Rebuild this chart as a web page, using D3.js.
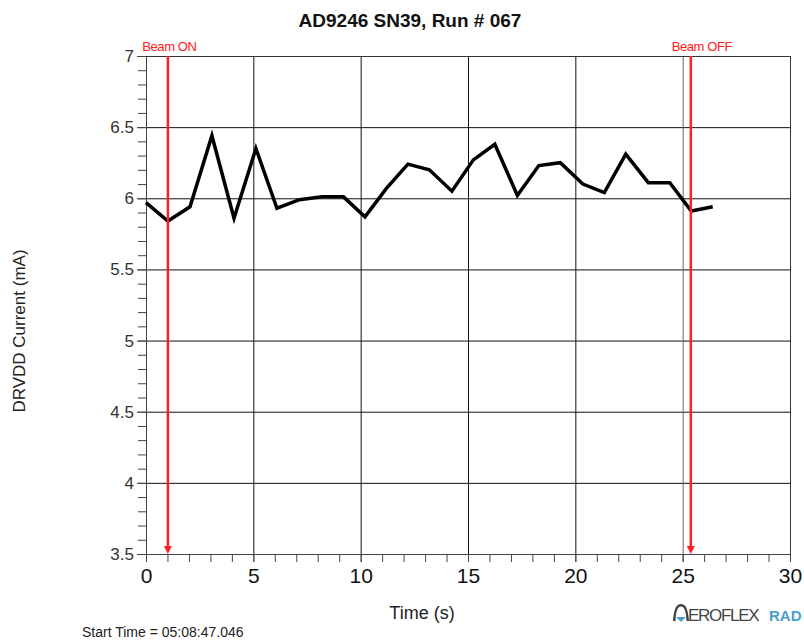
<!DOCTYPE html>
<html>
<head>
<meta charset="utf-8">
<style>
  body { margin: 0; background: #fff; }
  svg { font-family: "Liberation Sans", Arial, sans-serif; }
</style>
</head>
<body>
<svg width="804" height="640"></svg>
<script src="https://cdnjs.cloudflare.com/ajax/libs/d3/7.8.5/d3.min.js"></script>
<script>

// data
var times = [0, 1.02, 2.05, 3.07, 4.1, 5.12, 6.1, 7.15, 8.2, 9.2, 10.2, 11.2, 12.2, 13.2,
             14.25, 15.25, 16.25, 17.3, 18.3, 19.3, 20.35, 21.35, 22.35, 23.4, 24.4, 25.4, 26.4];
var current = [5.97, 5.84, 5.94, 6.44, 5.86, 6.35, 5.93, 5.99, 6.01, 6.01, 5.87, 6.07, 6.24, 6.20,
               6.05, 6.27, 6.38, 6.02, 6.23, 6.25, 6.10, 6.04, 6.31, 6.11, 6.11, 5.91, 5.94];
var markers = [{t: 1.02, label: "Beam ON"}, {t: 25.38, label: "Beam OFF"}];
var xTicks = [0, 5, 10, 15, 20, 25, 30];
var yTicks = [3.5, 4, 4.5, 5, 5.5, 6, 6.5, 7];

var margin = {top: 56, right: 14, bottom: 86, left: 146},
    width = 804 - margin.left - margin.right,
    height = 640 - margin.top - margin.bottom;

var svg = d3.select("svg");
var g = svg.append("g")
    .attr("transform", "translate(" + margin.left + "," + margin.top + ")");

var x = d3.scaleLinear().domain([0, 30]).range([0, width]);
var y = d3.scaleLinear().domain([3.5, 7]).range([height, 0]);

// grid
g.append("g").selectAll("line").data(yTicks).enter().append("line")
    .attr("x1", 0).attr("x2", width)
    .attr("y1", function(d) { return y(d) + 0.5; })
    .attr("y2", function(d) { return y(d) + 0.5; })
    .attr("stroke", "#111").attr("stroke-width", 1);
g.append("g").selectAll("line").data(xTicks).enter().append("line")
    .attr("y1", 0).attr("y2", height)
    .attr("x1", function(d) { return x(d) + 0.5; })
    .attr("x2", function(d) { return x(d) + 0.5; })
    .attr("stroke", function(d) { return d == 25 ? "#666" : "#111"; }).attr("stroke-width", 1);

// axes with minor ticks
var yMinor = d3.range(35, 71).map(function(d) { return d / 10; });
var xMinor = d3.range(0, 31);

g.append("g")
    .call(d3.axisLeft(y).tickValues(yMinor).tickSize(8).tickFormat(""))
    .call(function(a) { a.select(".domain").attr("stroke", "#444"); a.selectAll("line").attr("stroke", "#444"); });
g.append("g")
    .call(d3.axisLeft(y).tickValues(yTicks).tickSize(9).tickPadding(3).tickFormat(d3.format("")))
    .call(function(a) {
      a.select(".domain").remove();
      a.selectAll("line").attr("stroke", "#444");
      a.selectAll("text").attr("font-size", 17).attr("fill", "#333").attr("font-family", "Liberation Sans, Arial");
    });

g.append("g")
    .attr("transform", "translate(0," + height + ")")
    .call(d3.axisBottom(x).tickValues(xMinor).tickSize(8).tickFormat(""))
    .call(function(a) { a.select(".domain").attr("stroke", "#444"); a.selectAll("line").attr("stroke", "#444"); });
g.append("g")
    .attr("transform", "translate(0," + height + ")")
    .call(d3.axisBottom(x).tickValues(xTicks).tickSize(8).tickPadding(6).tickFormat(d3.format("")))
    .call(function(a) {
      a.select(".domain").remove();
      a.selectAll("line").attr("stroke", "#444");
      a.selectAll("text").attr("font-size", 21).attr("fill", "#111").attr("font-family", "Liberation Sans, Arial");
    });

// frame top/right
g.append("line").attr("x1", 0).attr("x2", width).attr("y1", 0.5).attr("y2", 0.5).attr("stroke", "#333");
g.append("line").attr("x1", width + 0.5).attr("x2", width + 0.5).attr("y1", 0).attr("y2", height).attr("stroke", "#333");

// data line
var pts = times.map(function(t, i) { return [t, current[i]]; });
g.append("path")
    .datum(pts)
    .attr("fill", "none")
    .attr("stroke", "#000")
    .attr("stroke-width", 3.5)
    .attr("stroke-linejoin", "miter")
    .attr("d", d3.line()
      .x(function(d) { return x(d[0]); })
      .y(function(d) { return y(d[1]); }));

// beam markers
var mk = g.append("g").selectAll("g").data(markers).enter().append("g")
    .attr("transform", function(d) { return "translate(" + x(d.t) + ",0)"; });
mk.append("line")
    .attr("y1", 0).attr("y2", height - 6)
    .attr("stroke", "#ff2020").attr("stroke-width", 2.5);
mk.append("path")
    .attr("d", "M-4," + (height - 8) + "L4," + (height - 8) + "L0," + height + "Z")
    .attr("fill", "#ff2020");
mk.append("text")
    .attr("y", -5)
    .attr("dx", function(d, i) { return i ? 11 : 1.5; })
    .attr("text-anchor", "middle")
    .attr("font-size", 13)
    .attr("fill", "#ff2020")
    .attr("letter-spacing", -0.4)
    .text(function(d) { return d.label; });

// titles
svg.append("text")
    .attr("x", 410).attr("y", 27)
    .attr("text-anchor", "middle")
    .attr("font-size", 19).attr("font-weight", "bold").attr("fill", "#111")
    .text("AD9246 SN39, Run # 067");

svg.append("text")
    .attr("transform", "translate(25,331) rotate(-90)")
    .attr("text-anchor", "middle")
    .attr("font-size", 17).attr("fill", "#222")
    .text("DRVDD Current (mA)");

svg.append("text")
    .attr("x", 422).attr("y", 619)
    .attr("text-anchor", "middle")
    .attr("font-size", 18).attr("fill", "#222")
    .text("Time (s)");

svg.append("text")
    .attr("x", 82).attr("y", 637)
    .attr("font-size", 14).attr("fill", "#222")
    .text("Start Time = 05:08:47.046");

// logo
var logo = svg.append("g").attr("transform", "translate(673,621)");
logo.append("path")
    .attr("d", "M0,0 C1,-14 4,-17 8,-17 C12,-17 15,-14 16,0 L13.5,0 C13,-11 11,-14.5 8,-14.5 C5,-14.5 3,-11 2.5,0 Z")
    .attr("fill", "#444");
logo.append("path")
    .attr("d", "M3,-4 L13,-4 L8,1 Z")
    .attr("fill", "#4aa0cc");
logo.append("text")
    .attr("x", 15).attr("y", 0)
    .attr("font-size", 17).attr("fill", "#444").attr("letter-spacing", -1.3)
    .text("EROFLEX");
logo.append("text")
    .attr("x", 96).attr("y", 0)
    .attr("font-size", 15).attr("font-weight", "bold").attr("fill", "#4aa0cc")
    .text("RAD");

</script>
</body>
</html>
